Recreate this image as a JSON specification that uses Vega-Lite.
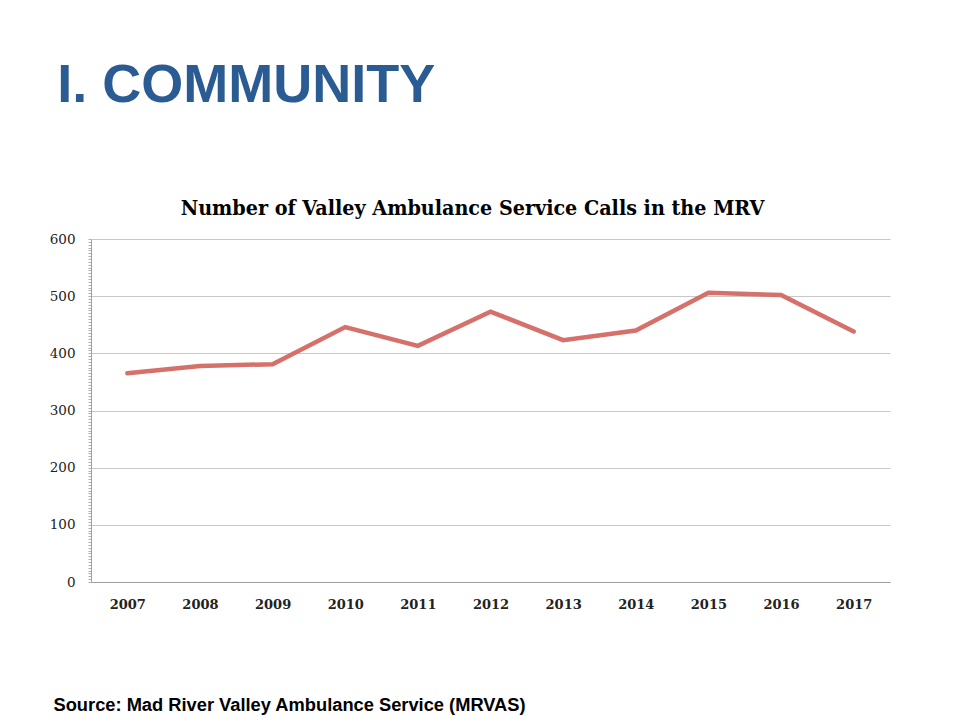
{
  "$schema": "https://vega.github.io/schema/vega-lite/v6.json",
  "width": 799,
  "height": 343,
  "autosize": {"type": "none"},
  "padding": {"left": 91, "top": 239, "right": 70, "bottom": 143},
  "background": "white",
  "config": {"view": {"stroke": null}},
  "title": {
    "text": "I. COMMUNITY",
    "font": "Liberation Sans",
    "fontSize": 54,
    "fontWeight": "bold",
    "color": "#2a5b93",
    "anchor": "start",
    "frame": "bounds",
    "dx": 8,
    "offset": 84
  },
  "data": {
    "values": [
      {"year": "2007", "calls": 365},
      {"year": "2008", "calls": 378},
      {"year": "2009", "calls": 381},
      {"year": "2010", "calls": 446},
      {"year": "2011", "calls": 413},
      {"year": "2012", "calls": 473},
      {"year": "2013", "calls": 423},
      {"year": "2014", "calls": 440},
      {"year": "2015", "calls": 506},
      {"year": "2016", "calls": 502},
      {"year": "2017", "calls": 438}
    ]
  },
  "mark": {"type": "line", "color": "#d6706a", "strokeWidth": 4.5, "strokeCap": "round"},
  "encoding": {
    "x": {
      "field": "year",
      "type": "ordinal",
      "scale": {"type": "point", "padding": 0.5},
      "axis": {
        "labelAngle": 0,
        "labelFont": "DejaVu Serif",
        "labelFontSize": 13,
        "labelFontWeight": "bold",
        "labelColor": "#222222",
        "labelPadding": 16,
        "ticks": false,
        "domainColor": "#a0a0a0",
        "title": "Source: Mad River Valley Ambulance Service (MRVAS)",
        "titleFont": "Liberation Sans",
        "titleFontSize": 18.3,
        "titleFontWeight": "bold",
        "titleColor": "#000000",
        "titleAlign": "left",
        "titleBaseline": "alphabetic",
        "titleX": -38,
        "titleY": 128
      }
    },
    "y": {
      "field": "calls",
      "type": "quantitative",
      "scale": {"domain": [0, 600], "nice": false},
      "axis": {
        "values": [0,5,10,15,20,25,30,35,40,45,50,55,60,65,70,75,80,85,90,95,100,105,110,115,120,125,130,135,140,145,150,155,160,165,170,175,180,185,190,195,200,205,210,215,220,225,230,235,240,245,250,255,260,265,270,275,280,285,290,295,300,305,310,315,320,325,330,335,340,345,350,355,360,365,370,375,380,385,390,395,400,405,410,415,420,425,430,435,440,445,450,455,460,465,470,475,480,485,490,495,500,505,510,515,520,525,530,535,540,545,550,555,560,565,570,575,580,585,590,595,600],
        "labelExpr": "datum.value % 100 === 0 ? datum.label : ''",
        "labelOverlap": false,
        "labelFont": "DejaVu Serif",
        "labelFontSize": 13.5,
        "labelColor": "#222222",
        "labelPadding": 13,
        "tickSize": 3,
        "tickColor": "#b0b0b0",
        "domainColor": "#a0a0a0",
        "grid": true,
        "gridColor": "#c8c8c8",
        "gridOpacity": {"condition": {"test": "datum.value % 100 === 0", "value": 1}, "value": 0},
        "title": "Number of Valley Ambulance Service Calls in the MRV",
        "titleFont": "DejaVu Serif Condensed",
        "titleFontSize": 21.3,
        "titleFontWeight": "bold",
        "titleColor": "#000000",
        "titleAngle": 0,
        "titleAlign": "center",
        "titleBaseline": "alphabetic",
        "titleX": 381,
        "titleY": -25
      }
    }
  }
}
